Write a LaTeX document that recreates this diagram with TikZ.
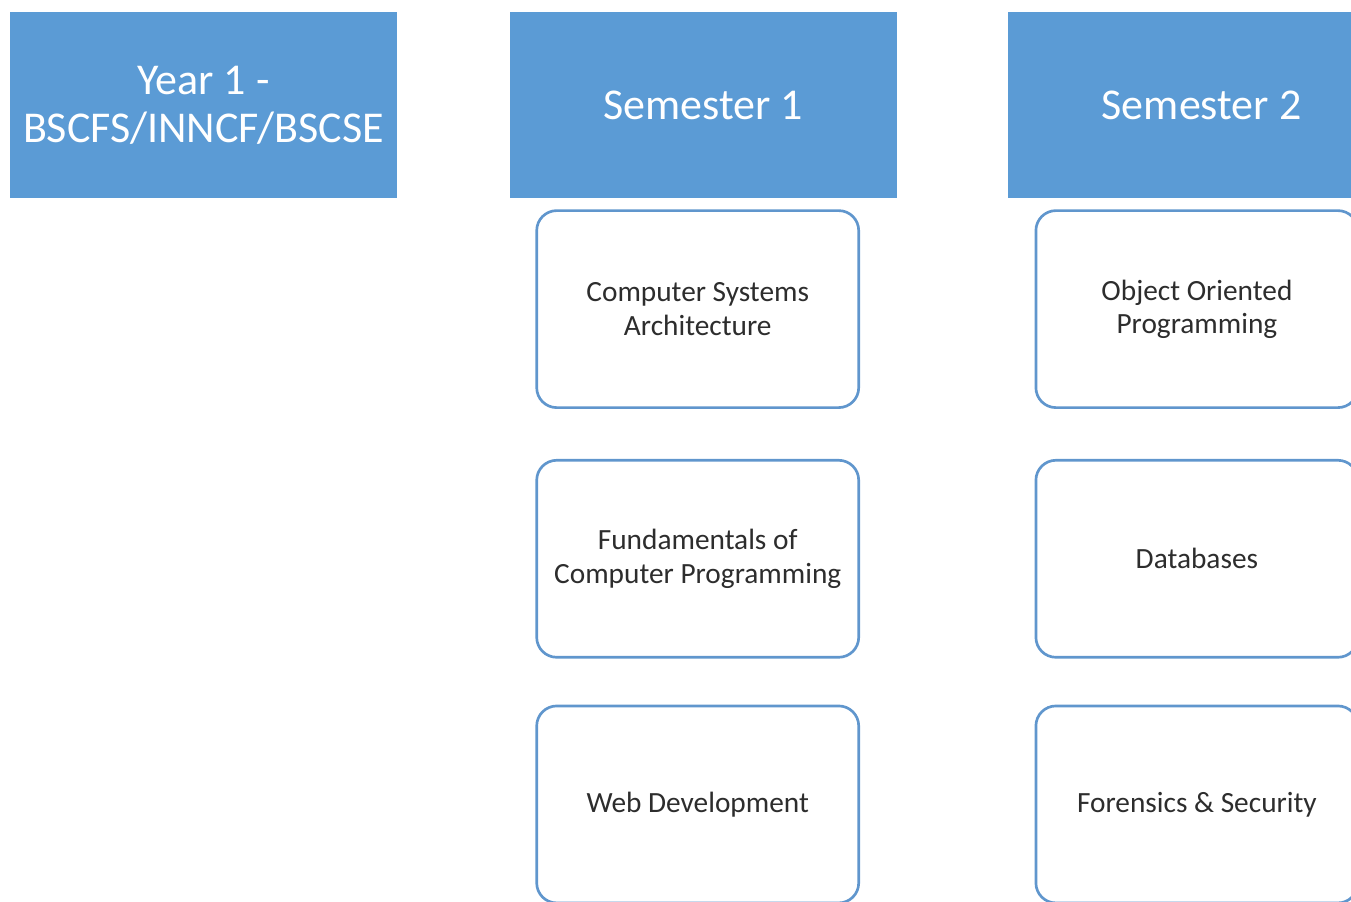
\documentclass[tikz,border=0pt]{standalone}
\usepackage{xcolor}
\usepackage{fontspec}
\setmainfont{Carlito}
\usepackage{tikz}
\usetikzlibrary{positioning}
\definecolor{headblue}{RGB}{91,155,213}
\definecolor{edgeblue}{RGB}{96,150,205}
\definecolor{modtext}{RGB}{45,45,45}

\begin{document}
\begin{tikzpicture}[x=0.75pt,y=-0.75pt,
  header/.style={fill=headblue, draw=none, text=white, align=center,
    minimum width=290.25pt, minimum height=139.5pt, inner sep=0pt,
    font=\fontsize{33}{36}\selectfont},
  module/.style={draw=edgeblue, line width=2pt, rounded corners=15pt, fill=white,
    text=modtext, align=center, minimum width=241.5pt, minimum height=147.75pt,
    inner sep=0pt, font=\fontsize{22}{25}\selectfont},
  node distance=8.25pt and 84pt]
\useasboundingbox (0,0) rectangle (1351,901);
\begin{scope}
\clip (0,0) rectangle (1351,901);
% column headers
\node[header] (year) at (203.5,105) {Year 1 -\\BSCFS/INNCF/BSCSE};
\node[header, right=of year] (sem1) {Semester 1};
\node[header, right=83.25pt of sem1] (sem2) {Semester 2};
% semester 1 modules
\node[module, below=of sem1, xshift=-4pt] (csa) {Computer Systems\\Architecture};
\node[module, below=37.5pt of csa] (fcp) {Fundamentals of\\Computer Programming};
\node[module, below=34.5pt of fcp] (web) {Web Development};
% semester 2 modules
\node[module, below=of sem2, xshift=-3.5pt] (oop) {Object Oriented\\Programming};
\node[module, below=37.5pt of oop] (db) {Databases};
\node[module, below=34.5pt of db] (fsec) {Forensics \& Security};
\end{scope}
\end{tikzpicture}
\end{document}
